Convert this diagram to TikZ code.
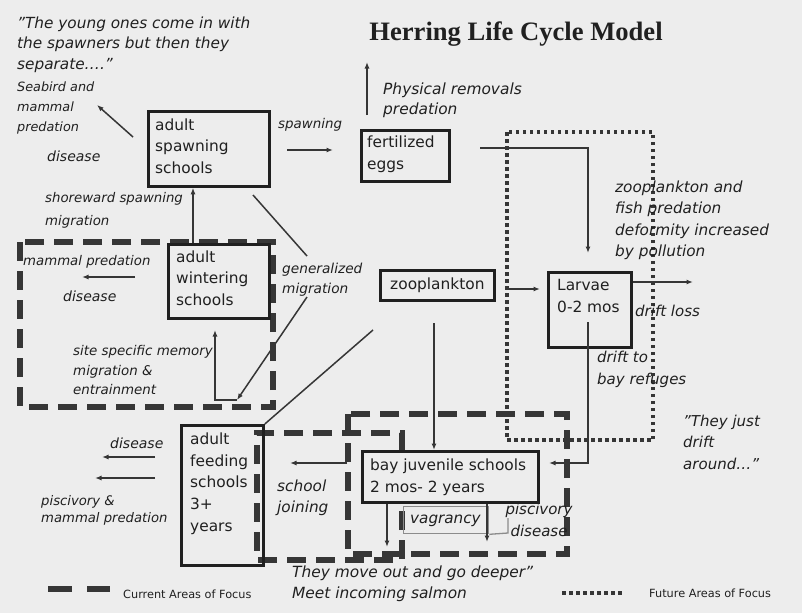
\documentclass[tikz,border=0pt]{standalone}
\usepackage{fontspec}
\setmainfont{DejaVu Sans}
\newfontfamily\titlefont{Liberation Serif}
\usetikzlibrary{arrows.meta}
\definecolor{paper}{HTML}{EDEDED}
\definecolor{ink}{HTML}{202020}
\newcommand{\dq}{{\char34}}
\tikzset{
  box/.style={draw=ink, line width=2.8pt, inner sep=0pt, anchor=north west},
  thinbox/.style={draw=black!45, line width=1.3pt, inner sep=0pt, anchor=north west},
  conn/.style={draw=ink!90, line width=1.5pt},
  arr/.style={conn, -{Latex[length=6.5pt,width=5pt]}},
  cur/.style={draw=ink!90, line width=5.5pt, dash pattern=on 19pt off 10pt},
  fut/.style={draw=ink!90, line width=4.5pt, dash pattern=on 3.5pt off 3.5pt},
  btxt/.style={font=\fontsize{15.4}{21.5}\selectfont, align=left, inner sep=0pt, anchor=north west, text=ink},
  lbl/.style={font=\itshape\fontsize{15.2}{21}\selectfont, align=left, inner sep=0pt, anchor=north west, text=ink},
  slbl/.style={font=\itshape\fontsize{13.4}{19.5}\selectfont, align=left, inner sep=0pt, anchor=north west, text=ink},
  one/.style={inner sep=0pt, anchor=base west, text=ink},
}
\begin{document}
\begin{tikzpicture}[x=1pt,y=-1pt]
\useasboundingbox (0,0) rectangle (802,613);
\fill[paper] (0,0) rectangle (802,613);

% title
\node[font=\titlefont\bfseries\fontsize{26.6}{30}\selectfont, text=ink] (title) at (516,34) {Herring Life Cycle Model};

% focus areas
\draw[cur] (20,242) rectangle (273,407);
\draw[cur] (402,450) -- (402,433) -- (257,433) -- (257,560) -- (402,560) -- (402,501);
\draw[cur] (348,414) rectangle (567,554);
\draw[fut] (507,132) rectangle (653,440);

% boxes
\node[box, minimum width=121pt, minimum height=75pt] (spawn) at (147,110) {};
\node[btxt] (spawnt) at (155,118.5) {adult\\spawning\\schools};
\node[box, minimum width=88pt, minimum height=51pt] (eggs) at (360,129) {};
\node[btxt, font=\fontsize{15.4}{22}\selectfont] (eggst) at (367,135.5) {fertilized\\eggs};
\node[box, minimum width=101pt, minimum height=74pt] (wint) at (167,243) {};
\node[btxt] (wintt) at (176,250.5) {adult\\wintering\\schools};
\node[box, minimum width=114pt, minimum height=30pt, font=\fontsize{15.4}{21.5}\selectfont, text=ink] (zoo) at (379,269) {zooplankton};
\node[box, minimum width=83pt, minimum height=75pt] (larv) at (547,271) {};
\node[btxt, font=\fontsize{15.4}{22}\selectfont] (larvt) at (557,279.5) {Larvae\\0-2 mos};
\node[box, minimum width=82pt, minimum height=140pt] (feed) at (180,424) {};
\node[btxt, font=\fontsize{15.4}{21.7}\selectfont] (feedt) at (190,432.5) {adult\\feeding\\schools\\3+\\years};
\node[box, minimum width=176pt, minimum height=51pt] (bay) at (361,450) {};
\node[btxt, font=\fontsize{15.4}{22}\selectfont] (bayt) at (370,458.5) {bay juvenile schools\\2 mos- 2 years};
\node[thinbox, minimum width=85pt, minimum height=27pt] (vag) at (403,506) {};
\node[one, font=\itshape\fontsize{15.2}{20}\selectfont] (vagt) at (410,523.2) {vagrancy};

% labels
\node[lbl, font=\itshape\fontsize{15.3}{20.5}\selectfont] (q1) at (17,16.5) {\dq The young ones come in with\\the spawners but then they\\separate….\dq};
\node[slbl, font=\itshape\fontsize{12.8}{20}\selectfont] (seab) at (17,81.7) {Seabird and\\mammal\\predation};
\node[one, font=\itshape\fontsize{14}{18}\selectfont] (dis1) at (47,161.8) {disease};
\node[slbl, font=\itshape\fontsize{13.3}{23}\selectfont] (shore) at (45,192.5) {shoreward spawning\\migration};
\node[one, font=\itshape\fontsize{13.4}{18}\selectfont] (spl) at (278,128.7) {spawning};
\node[lbl, font=\itshape\fontsize{15.4}{20}\selectfont] (phys) at (383,82.5) {Physical removals\\predation};
\node[lbl, font=\itshape\fontsize{15.3}{21.5}\selectfont] (zfp) at (615,180.5) {zooplankton and\\fish predation\\deformity increased\\by pollution};
\node[one, font=\itshape\fontsize{15}{20}\selectfont] (dloss) at (635,316.2) {drift loss};
\node[lbl, font=\itshape\fontsize{15}{22}\selectfont] (dto) at (597,350.7) {drift to\\bay refuges};
\node[lbl, font=\itshape\fontsize{15}{21.5}\selectfont] (just) at (683,414.7) {\dq They just\\drift\\around…\dq};
\node[one, font=\itshape\fontsize{13.3}{18}\selectfont] (mp) at (23,265.6) {mammal predation};
\node[one, font=\itshape\fontsize{14}{18}\selectfont] (dis2) at (63,301.8) {disease};
\node[slbl, font=\itshape\fontsize{13.7}{19.5}\selectfont] (gen) at (282,263.3) {generalized\\migration};
\node[slbl] (site) at (73,345.4) {site specific memory\\migration \& \\entrainment};
\node[one, font=\itshape\fontsize{14}{18}\selectfont] (dis3) at (110,448.8) {disease};
\node[slbl, font=\itshape\fontsize{13.2}{17}\selectfont] (pisc) at (41,495.5) {piscivory \&\\mammal predation};
\node[lbl, font=\itshape\fontsize{15.3}{21}\selectfont] (sj) at (277,479.5) {school\\joining};
\node[lbl, font=\itshape\fontsize{15}{22}\selectfont, align=center, anchor=north] (pd) at (539,502.7) {piscivory\\disease};
\node[lbl, font=\itshape\fontsize{15.4}{21}\selectfont] (deep) at (292,565.7) {They move out and go deeper\dq\\Meet incoming salmon};

% legend
\draw[cur, dash pattern=on 24pt off 15pt] (48,589) -- (110,589);
\node[one, font=\fontsize{11.3}{14}\selectfont] (curl) at (123,598) {Current Areas of Focus};
\draw[fut] (562,593) -- (622,593);
\node[one, font=\fontsize{11.3}{14}\selectfont] (futl) at (649,597) {Future Areas of Focus};

% connectors
\coordinate (sbA) at (133,137); \coordinate (sbB) at (97,105);
\draw[arr] (sbA) -- (sbB);
\coordinate (spA) at (287,150); \coordinate (spB) at (333,150);
\draw[arr] (spA) -- (spB);
\coordinate (phA) at (367,115); \coordinate (phB) at (367,62);
\draw[arr] (phA) -- (phB);
\coordinate (egA) at (480,148); \coordinate (egB) at (588,253);
\draw[arr] (egA) -- (588,148) -- (egB);
\coordinate (zlA) at (507,289); \coordinate (zlB) at (540,289);
\draw[arr] (zlA) -- (zlB);
\coordinate (dlB) at (693,282);
\draw[arr] ([yshift=-11pt]larv.north east) -- (dlB);
\coordinate (lbA) at (588,322); \coordinate (lbB) at (549,463);
\draw[arr] (lbA) -- (588,463) -- (lbB);
\draw[arr] ([xshift=26pt]wint.north west) -- ([xshift=46pt]spawn.south west);
\coordinate (g1A) at (253,195); \coordinate (g1B) at (307,256);
\draw[conn] (g1A) -- (g1B);
\coordinate (g2A) at (307,297); \coordinate (g2B) at (237,400);
\draw[arr] (g2A) -- (g2B);
\coordinate (ssA) at (237,400); \coordinate (ssB) at (215,330);
\draw[arr] (ssA) -- (215,400) -- (ssB);
\coordinate (zfA) at (373,330);
\draw[conn] (zfA) -- (feed.north east);
\coordinate (mpA) at (135,277); \coordinate (mpB) at (82,277);
\draw[arr] (mpA) -- (mpB);
\coordinate (f1A) at (155,457); \coordinate (f1B) at (102,457);
\draw[arr] (f1A) -- (f1B);
\coordinate (f2A) at (155,478); \coordinate (f2B) at (95,478);
\draw[arr] (f2A) -- (f2B);
\coordinate (bfA) at (347,463); \coordinate (bfB) at (290,463);
\draw[arr] (bfA) -- (bfB);
\coordinate (zbA) at (434,323);
\draw[arr] (zbA) -- ([xshift=73pt]bay.north west);
\coordinate (d1B) at (387,547);
\draw[arr] ([xshift=26pt]bay.south west) -- (d1B);
\coordinate (d2B) at (487,542);
\draw[arr] ([xshift=126pt]bay.south west) -- (d2B);
\draw[draw=black!45, line width=1.3pt] (vag.south east) -- (508,533) -- (508,518);
\end{tikzpicture}
\end{document}
